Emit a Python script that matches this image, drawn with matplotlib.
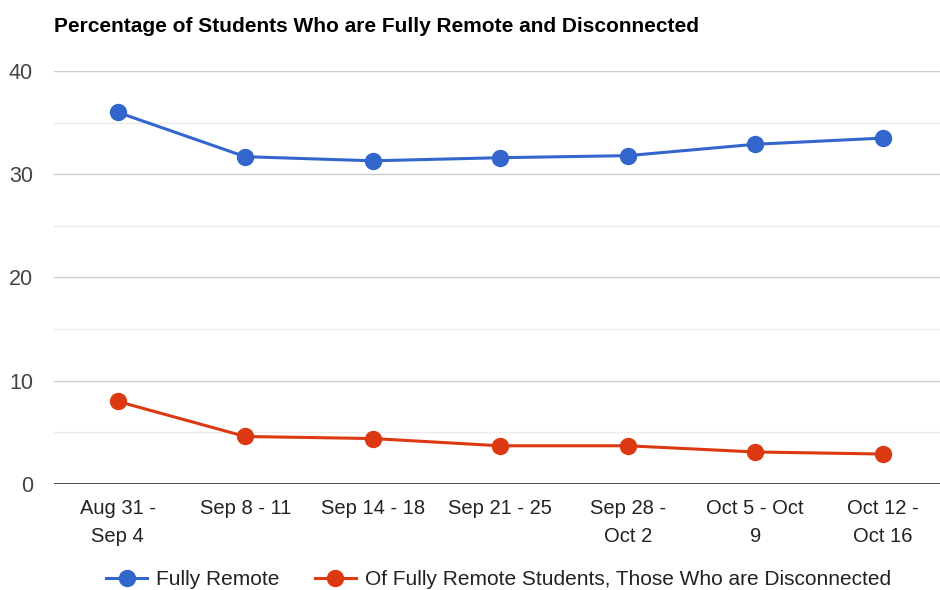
import matplotlib
matplotlib.use("Agg")
from matplotlib import pyplot as plt
from matplotlib.ticker import MultipleLocator

# Data
weeks = ["Aug 31 -\nSep 4", "Sep 8 - 11", "Sep 14 - 18", "Sep 21 - 25",
         "Sep 28 -\nOct 2", "Oct 5 - Oct\n9", "Oct 12 -\nOct 16"]
fully_remote = [36.0, 31.7, 31.3, 31.6, 31.8, 32.9, 33.5]
disconnected = [8.0, 4.6, 4.4, 3.7, 3.7, 3.1, 2.9]

BLUE = "#3366CC"
RED = "#DC3912"

plt.rcParams['font.family'] = ['Liberation Sans', 'DejaVu Sans']

fig = plt.figure(figsize=(9.4, 5.9), dpi=100)
ax = fig.add_axes([0.0574, 0.1797, 0.9426, 0.70])

x = list(range(len(weeks)))
ax.plot(x, fully_remote, color=BLUE, lw=2.2, marker="o", ms=11.5,
        label="Fully Remote", zorder=3, clip_on=False)
ax.plot(x, disconnected, color=RED, lw=2.2, marker="o", ms=11.5,
        label="Of Fully Remote Students, Those Who are Disconnected",
        zorder=3, clip_on=False)

ax.set_ylim(0, 40)
ax.set_xlim(-0.5, 6.45)
ax.yaxis.set_major_locator(MultipleLocator(10))
ax.yaxis.set_minor_locator(MultipleLocator(5))
ax.grid(which="major", axis="y", color="#cccccc", lw=1)
ax.grid(which="minor", axis="y", color="#ebebeb", lw=1)
ax.set_axisbelow(True)
ax.axhline(0, color="#333333", lw=1.2, zorder=2)

for s in ax.spines.values():
    s.set_visible(False)

ax.set_xticks(x)
ax.set_xticklabels(weeks, linespacing=1.6)
ax.tick_params(axis="x", length=0, pad=11, labelsize=14.5, labelcolor="#222222")
ax.tick_params(axis="y", which="both", length=0, pad=15, labelsize=15.5,
               labelcolor="#444444")

fig.text(0.0574, 0.955, "Percentage of Students Who are Fully Remote and Disconnected",
         fontsize=15, fontweight="bold", color="#000000", va="center", ha="left")

fig.legend(loc="center", bbox_to_anchor=(0.530, 0.018), ncol=2, frameon=False,
           fontsize=15, handlelength=2.0, columnspacing=1.7, handletextpad=0.4,
           labelcolor="#222222")

fig.savefig("out.png", dpi=100)
